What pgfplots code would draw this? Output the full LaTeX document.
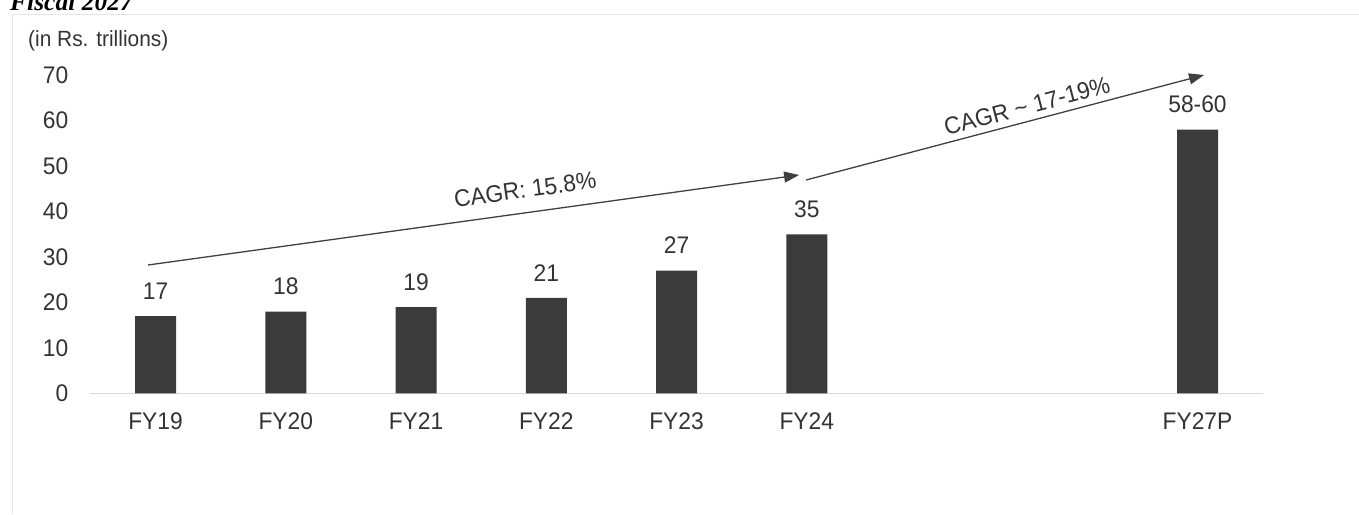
\documentclass[border=0pt]{standalone}
\usepackage{pgfplots}
\pgfplotsset{compat=1.18}
\usepackage{fontspec}
\setmainfont[FakeStretch=0.95]{Liberation Sans}
\newfontfamily\titlefont{Liberation Serif}
\usetikzlibrary{arrows.meta}

\definecolor{barcol}{HTML}{3B3B3B}
\definecolor{txtcol}{HTML}{333333}
\definecolor{arrcol}{HTML}{404040}
\definecolor{basecol}{HTML}{D9D9D9}
\definecolor{framecol}{HTML}{E6E6E6}

\begin{document}
\begin{tikzpicture}
\useasboundingbox (0,0) rectangle (1359pt,514pt);
% faint frame and cut-off title
\draw[framecol, line width=1pt] (12.5pt,0) -- (12.5pt,499pt) -- (1359pt,499pt);
\node[anchor=base west, inner sep=0pt, text=black] at (10pt,503pt)
  {\titlefont\bfseries\itshape\fontsize{25.5}{30}\selectfont Fiscal 2027};
\node[anchor=west, inner sep=0pt, text=txtcol] at (28pt,473pt)
  {\fontsize{22}{26}\selectfont (in Rs. trillions)};

\begin{axis}[
  at={(90.4pt,120.5pt)}, anchor=south west,
  scale only axis, width=1172.3pt, height=318.5pt,
  xmin=-0.5, xmax=8.5, ymin=0, ymax=70,
  axis lines=left, axis line style={draw=none},
  tick style={draw=none}, major tick length=0pt,
  xtick={0,1,2,3,4,5,8},
  xticklabels={FY19,FY20,FY21,FY22,FY23,FY24,FY27P},
  ytick={0,10,...,70},
  /pgf/number format/assume math mode=true,
  tick label style={font=\fontsize{24}{28}\selectfont, text=txtcol},
  yticklabel style={anchor=east, inner sep=0pt, xshift=-22pt},
  xticklabel style={anchor=north, inner sep=0pt, yshift=-19.5pt},
  ybar, bar width=41pt,
  point meta=explicit symbolic,
  nodes near coords,
  nodes near coords style={anchor=south, inner sep=0pt, yshift=16.5pt,
    font=\fontsize{24}{28}\selectfont, text=txtcol},
  clip=false,
]
\draw[basecol, line width=1.2pt] (axis cs:-0.5,0) -- (axis cs:8.5,0);
\addplot[fill=barcol, draw=none] coordinates {
  (0,17) [17]
  (1,18) [18]
  (2,19) [19]
  (3,21) [21]
  (4,27) [27]
  (5,35) [35]
  (8,58) [58-60]
};
\draw[arrcol, line width=1.3pt, -{Triangle[length=15pt, width=11pt]}]
  (axis cs:-0.058,28.24) --
  node[sloped, above=14pt, pos=0.584, inner sep=0pt, text=txtcol,
       font=\fontsize{24}{28}\selectfont] {CAGR: 15.8\%}
  (axis cs:4.941,48.02);
\draw[arrcol, line width=1.3pt, -{Triangle[length=15pt, width=11pt]}]
  (axis cs:4.994,46.92) --
  node[sloped, above=6pt, pos=0.565, inner sep=0pt, text=txtcol,
       font=\fontsize{24}{28}\selectfont] {CAGR \textasciitilde{} 17-19\%}
  (axis cs:8.05,70.0);
\end{axis}
\end{tikzpicture}
\end{document}
